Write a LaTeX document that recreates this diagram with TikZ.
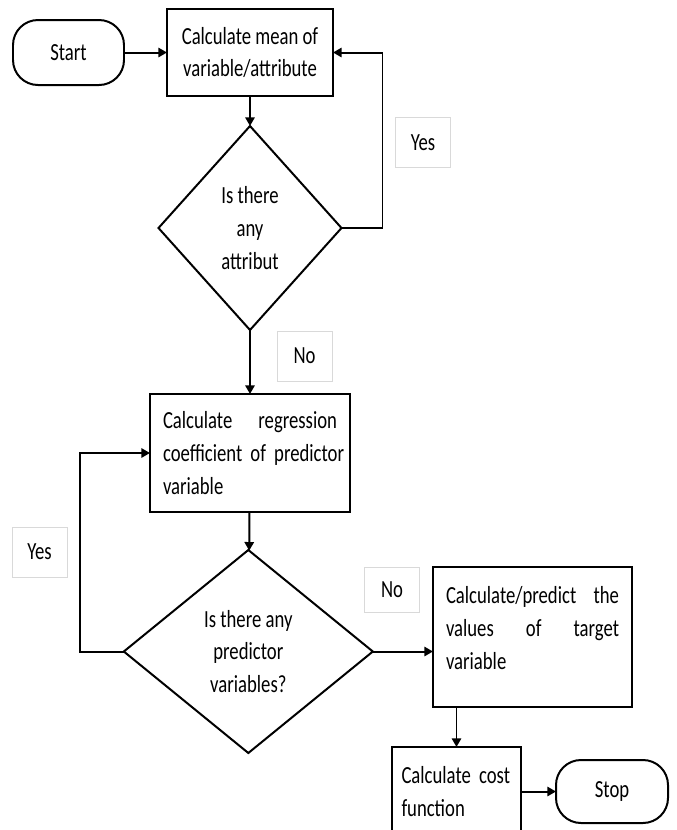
\documentclass[tikz,border=0pt]{standalone}
\usepackage{fontspec}
\setmainfont{Carlito}[FakeStretch=0.76]
\usetikzlibrary{shapes.geometric, arrows.meta, positioning}
\newcommand{\fulline}[1]{\makebox[\linewidth][s]{#1}}

\begin{document}
\begin{tikzpicture}[
    font=\fontsize{21}{28}\selectfont,
    box/.style={rectangle, draw, line width=1.7pt, inner sep=0pt, outer sep=0pt},
    term/.style={rectangle, rounded corners=0.75cm, draw, line width=1.7pt,
                 minimum width=3.33cm, minimum height=1.95cm, outer sep=0pt},
    dec/.style={diamond, draw, line width=1.7pt, align=center, inner sep=0pt, outer sep=0pt},
    lab/.style={rectangle, draw=black!15, line width=0.5pt, minimum width=1.66cm,
                minimum height=1.5cm},
    arr/.style={-{Triangle[length=2.6mm,width=2.8mm]}, line width=1.7pt},
]
\useasboundingbox (0,0) rectangle (20.28,-24.9);
\clip (0,0) rectangle (20.28,-24.9);

% Main column
\node[term] (start) at (2.055,-1.575) {Start};
\node[box, align=center, minimum width=4.98cm, minimum height=2.61cm, right=1.29cm of start]
      (mean) {Calculate mean of\\variable/attribute};
\node[dec, minimum width=5.49cm, minimum height=6.12cm, below=0.9cm of mean]
      (attr) {Is there\\any\\attribut};
\node[box, text width=5.22cm, align=left, minimum width=6cm, minimum height=3.54cm,
      below=1.92cm of attr]
      (regr) {\fulline{Calculate\hfill regression}\\\fulline{coefficient of predictor}\\variable};
\node[dec, minimum width=7.47cm, minimum height=6.09cm, below=1.14cm of regr, xshift=-0.05cm]
      (pred) {Is there any\\predictor\\variables?};

% Right side
\node[box, text width=5.19cm, align=left, minimum width=5.97cm, minimum height=4.2cm]
      (target) at (15.975,-19.11)
      {\fulline{Calculate/predict\hfill the}\\\fulline{values\hfill of\hfill target}\\variable\\[-0.45cm]\mbox{}};
\node[box, text width=3.3cm, align=left, minimum width=3.87cm, minimum height=2.67cm,
      below=1.2cm of target, xshift=-2.28cm]
      (cost) {\mbox{Calculate cost}\\function};
\node[term, minimum width=3.36cm, minimum height=1.89cm, right=1.05cm of cost] (stop) {Stop};

% Labels
\node[lab] (yes1) at (12.69,-4.275) {Yes};
\node[lab] (no1)  at (9.135,-10.68) {No};
\node[lab] (yes2) at (1.185,-16.56) {Yes};
\node[lab, minimum height=1.35cm] (no2) at (11.76,-17.685) {No};

% Arrows
\draw[arr] (start) -- (mean);
\draw[arr] (mean) -- (attr);
\draw[arr] (attr.east) -- ++(1.23,0) |- (mean.east);
\draw[arr] (attr) -- (regr);
\draw[arr] (regr) -- (pred);
\draw[arr] (pred.west) -- ++(-1.32,0) |- (regr.west);
\draw[arr] (pred.east) -- (pred.east -| target.west);
\draw[arr] (cost.north |- target.south) -- (cost.north);
\draw[arr] (cost) -- (stop);

\end{tikzpicture}
\end{document}
